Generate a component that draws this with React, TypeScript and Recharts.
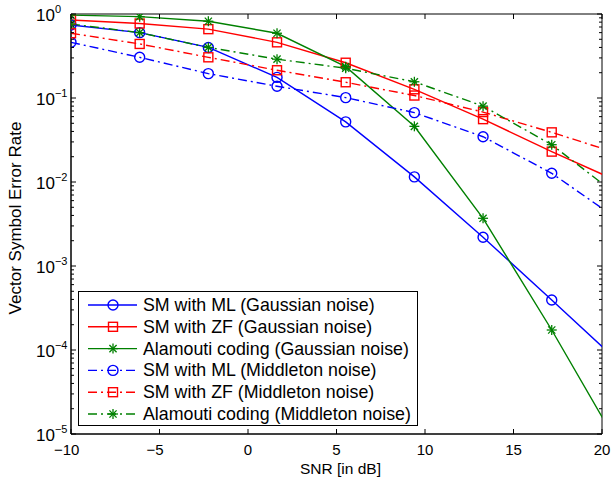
import { LineChart, Line, XAxis, YAxis, ReferenceArea, Legend } from "recharts"

// SNR grid of the simulation (last point lies past the axis and is clipped)
const snr = [-10, -6.12, -2.24, 1.64, 5.52, 9.4, 13.28, 17.16, 21.04];

// Gaussian noise
const smMlGauss = [0.74, 0.6, 0.4, 0.176, 0.052, 0.0115, 0.0022, 3.94e-4, 6.9e-5];
const smZfGauss = [0.85, 0.77, 0.66, 0.46, 0.263, 0.127, 0.056, 0.023, 0.0099];
const alamoutiGauss = [0.97, 0.93, 0.82, 0.59, 0.236, 0.046, 0.0037, 1.73e-4, 6.7e-6];

// Middleton noise
const smMlMiddleton = [0.46, 0.305, 0.195, 0.138, 0.101, 0.067, 0.0346, 0.0127, 0.00343];
const smZfMiddleton = [0.59, 0.44, 0.305, 0.214, 0.154, 0.107, 0.068, 0.039, 0.0214];
const alamoutiMiddleton = [0.76, 0.6, 0.4, 0.29, 0.226, 0.156, 0.08, 0.0278, 0.00655];

const xTicks = [-10, -5, 0, 5, 10, 15, 20];
const yDecades = [-5, -4, -3, -2, -1];
const yTicks = [...yDecades.flatMap((k) => [1, 2, 3, 4, 5, 6, 7, 8, 9].map((m) => m * Math.pow(10, k))), 1];

const BLUE = "#0000ff";
const RED = "#ff0000";
const GREEN = "#008000";
const DASHDOT = "9 4 2 4";
const FONT = "'Liberation Sans', Arial, Helvetica, sans-serif";

// plot box size (used to mirror ticks on top / right like matlab)
const PW = 531;
const PH = 420;

const series = [
  { key: "smMlGauss", name: "SM with ML (Gaussian noise)", color: BLUE, marker: "circle", dash: undefined },
  { key: "smZfGauss", name: "SM with ZF (Gaussian noise)", color: RED, marker: "square", dash: undefined },
  { key: "alamoutiGauss", name: "Alamouti coding (Gaussian noise)", color: GREEN, marker: "star", dash: undefined },
  { key: "smMlMiddleton", name: "SM with ML (Middleton noise)", color: BLUE, marker: "circle", dash: DASHDOT },
  { key: "smZfMiddleton", name: "SM with ZF (Middleton noise)", color: RED, marker: "square", dash: DASHDOT },
  { key: "alamoutiMiddleton", name: "Alamouti coding (Middleton noise)", color: GREEN, marker: "star", dash: DASHDOT },
];

const data = snr.map((s, i) => ({
  snr: s,
  smMlGauss: smMlGauss[i],
  smZfGauss: smZfGauss[i],
  alamoutiGauss: alamoutiGauss[i],
  smMlMiddleton: smMlMiddleton[i],
  smZfMiddleton: smZfMiddleton[i],
  alamoutiMiddleton: alamoutiMiddleton[i],
}));

function MarkerShape({ cx, cy, shape, color }: { cx: number; cy: number; shape: string; color: string }) {
  if (shape === "circle") {
    return <circle cx={cx} cy={cy} r={5} fill="none" stroke={color} strokeWidth={1.4} />;
  }
  if (shape === "square") {
    return <rect x={cx - 4.5} y={cy - 4.5} width={9} height={9} fill="none" stroke={color} strokeWidth={1.4} />;
  }
  const r = 5;
  const d = 3.6;
  return (
    <g stroke={color} strokeWidth={1.3}>
      <line x1={cx - r} x2={cx + r} y1={cy} y2={cy} />
      <line x1={cx} x2={cx} y1={cy - r} y2={cy + r} />
      <line x1={cx - d} x2={cx + d} y1={cy - d} y2={cy + d} />
      <line x1={cx - d} x2={cx + d} y1={cy + d} y2={cy - d} />
    </g>
  );
}

const makeDot = (shape: string, color: string) => (props: any) => {
  const { cx, cy, index } = props;
  if (cx == null || cy == null) return <g key={`d-${index}`} />;
  return (
    <g key={`d-${index}`}>
      <MarkerShape cx={cx} cy={cy} shape={shape} color={color} />
    </g>
  );
};

function XTick(props: any) {
  const { x, y, payload } = props;
  const v = payload.value;
  const digits = String(Math.abs(v));
  const half = (digits.length * 15 * 0.556) / 2;
  return (
    <g>
      <line x1={x} x2={x} y1={y} y2={y - 5} stroke="#000" />
      <line x1={x} x2={x} y1={y - PH} y2={y - PH + 5} stroke="#000" />
      <text x={x} y={y + 21} textAnchor="middle" fontSize={15} fill="#000">{digits}</text>
      {v < 0 && (
        <text x={x - half} y={y + 21} textAnchor="end" fontSize={15} fill="#000">−</text>
      )}
    </g>
  );
}

function YTick(props: any) {
  const { x, y, payload } = props;
  const e = Math.log10(payload.value);
  const exp = Math.round(e);
  const major = Math.abs(e - exp) < 1e-6;
  const len = major ? 5 : 3;
  return (
    <g>
      <line x1={x} x2={x + len} y1={y} y2={y} stroke="#000" />
      <line x1={x + PW} x2={x + PW - len} y1={y} y2={y} stroke="#000" />
      {major && (
        <text x={x - 35} y={y + 7} fontSize={17} fill="#000">
          10
          <tspan dy={-8} fontSize={11}>{exp < 0 ? `−${-exp}` : exp}</tspan>
        </text>
      )}
    </g>
  );
}

// axis titles, placed from the axis viewBox
const XTitle = (props: any) => {
  const { x, y, width } = props.viewBox;
  return (
    <text x={x + width / 2 + 4} y={y + 40} textAnchor="middle" fontSize={15.5} fill="#000">SNR [in dB]</text>
  );
};

const YTitle = (props: any) => {
  const { y, height } = props.viewBox;
  const cx = 21;
  const cy = y + height / 2 - 6;
  return (
    <text x={cx} y={cy} transform={`rotate(-90 ${cx} ${cy})`} textAnchor="middle" fontSize={17} fill="#000">
      Vector Symbol Error Rate
    </text>
  );
};

function LegendBox() {
  return (
    <div style={{ width: 338, height: 133, border: "1px solid #000", background: "#fff", fontFamily: FONT }}>
      <svg width={338} height={133}>
        {series.map((s, i) => {
          const cy = 13 + i * 21.8;
          return (
            <g key={s.key}>
              <line x1={9} x2={58} y1={cy} y2={cy} stroke={s.color} strokeWidth={1.4} strokeDasharray={s.dash} />
              <MarkerShape cx={34} cy={cy} shape={s.marker} color={s.color} />
              <text x={64} y={cy + 6} fontSize={17.8} fill="#000">{s.name}</text>
            </g>
          );
        })}
      </svg>
    </div>
  );
}

export default function App() {
  return (
    <div style={{ position: "absolute", left: 0, top: 0 }}>
      <LineChart
        width={613}
        height={478}
        data={data}
        margin={{ top: 14, right: 11, left: 0, bottom: 0 }}
        style={{ fontFamily: FONT, background: "#fff" }}
      >
        <XAxis
          dataKey="snr"
          type="number"
          domain={[-10, 20]}
          ticks={xTicks}
          allowDataOverflow
          interval={0}
          tickSize={0}
          tickMargin={0}
          tick={<XTick />}
          axisLine={{ stroke: "#000" }}
          height={44}
          label={XTitle}
        />
        <YAxis
          type="number"
          scale="log"
          domain={[1e-5, 1]}
          ticks={yTicks}
          allowDataOverflow
          interval={0}
          tickSize={0}
          tickMargin={0}
          tick={<YTick />}
          axisLine={{ stroke: "#000" }}
          width={71}
          label={YTitle}
        />
        <Legend
          layout="horizontal"
          verticalAlign="middle"
          align="center"
          content={() => <LegendBox />}
          wrapperStyle={{ left: 78, top: 291, width: 340, height: 135 }}
        />
        {series.map((s) => (
          <Line
            key={s.key}
            dataKey={s.key}
            name={s.name}
            type="linear"
            stroke={s.color}
            strokeWidth={1.4}
            strokeDasharray={s.dash}
            dot={makeDot(s.marker, s.color)}
            activeDot={false}
            isAnimationActive={false}
          />
        ))}
        <ReferenceArea x1={-10} x2={20} y1={1e-5} y2={1} fill="none" stroke="#000" strokeWidth={1} ifOverflow="extendDomain" />
      </LineChart>
    </div>
  );
}
